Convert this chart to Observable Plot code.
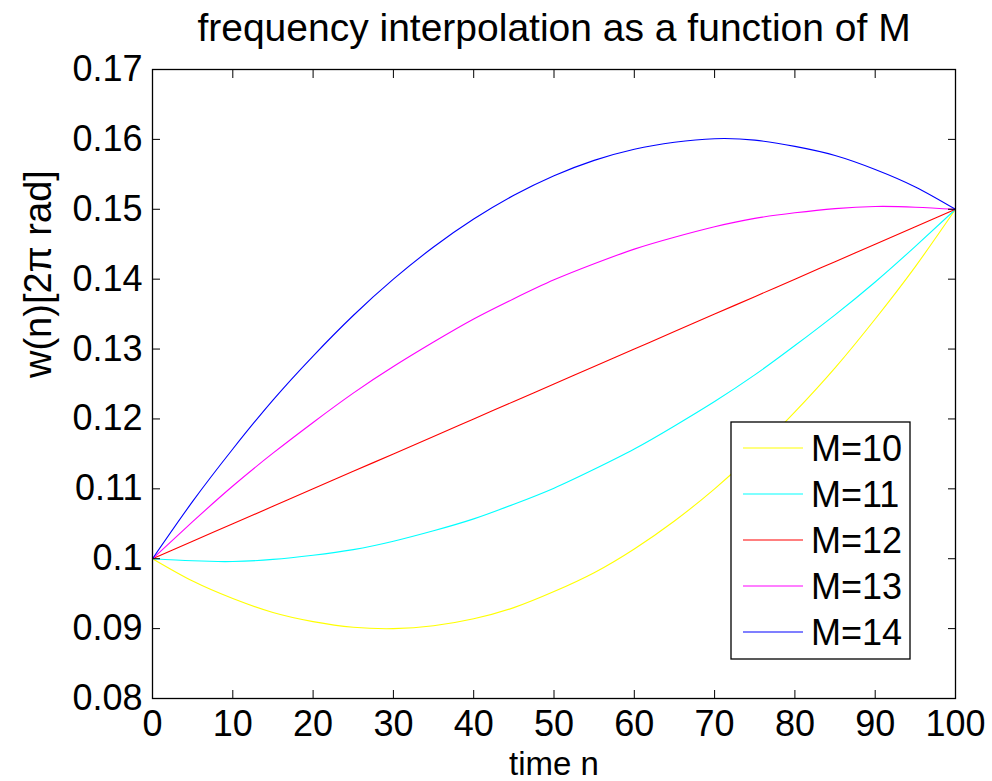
<!DOCTYPE html>
<html>
<head>
<meta charset="utf-8">
<script src="https://cdn.jsdelivr.net/npm/d3@7"></script>
<script src="https://cdn.jsdelivr.net/npm/@observablehq/plot@0.6"></script>
<style>
  html, body { margin: 0; padding: 0; background: #fff; }
  #chart { position: relative; width: 992px; height: 781px; }
  svg { font-family: "Liberation Sans", Arial, Helvetica, sans-serif; }
</style>
</head>
<body>
<div id="chart"></div>
<script>
// time n sampled every 5
const timeN = [0, 5, 10, 15, 20, 25, 30, 35, 40, 45, 50, 55, 60, 65, 70, 75, 80, 85, 90, 95, 100];

// w(n) in units of 2*pi rad
const wM10 = [0.1000, 0.0968, 0.0943, 0.0923, 0.0910, 0.0902, 0.0900, 0.0904, 0.0914, 0.0930, 0.0953,
              0.0980, 0.1014, 0.1054, 0.1100, 0.1152, 0.1210, 0.1273, 0.1343, 0.1418, 0.1500];
const wM11 = [0.1000, 0.0997, 0.0996, 0.0999, 0.1005, 0.1013, 0.1025, 0.1040, 0.1057, 0.1078, 0.1101,
              0.1128, 0.1157, 0.1190, 0.1225, 0.1263, 0.1305, 0.1349, 0.1396, 0.1447, 0.1500];
const wM12 = [0.1000, 0.1025, 0.1050, 0.1075, 0.1100, 0.1125, 0.1150, 0.1175, 0.1200, 0.1225, 0.1250,
              0.1275, 0.1300, 0.1325, 0.1350, 0.1375, 0.1400, 0.1425, 0.1450, 0.1475, 0.1500];
const wM13 = [0.1000, 0.1053, 0.1104, 0.1151, 0.1195, 0.1237, 0.1275, 0.1310, 0.1343, 0.1372, 0.1399,
              0.1422, 0.1443, 0.1460, 0.1475, 0.1487, 0.1495, 0.1501, 0.1504, 0.1503, 0.1500];
const wM14 = [0.1000, 0.1082, 0.1157, 0.1227, 0.1290, 0.1348, 0.1400, 0.1446, 0.1486, 0.1520, 0.1548,
              0.1570, 0.1586, 0.1596, 0.1601, 0.1599, 0.1590, 0.1577, 0.1557, 0.1532, 0.1500];

const seriesNames = ["M=10", "M=11", "M=12", "M=13", "M=14"];
const seriesColors = ["#ffff00", "#00ffff", "#ff0000", "#ff00ff", "#0000ff"];
const seriesValues = [wM10, wM11, wM12, wM13, wM14];

const xTicks = [0, 10, 20, 30, 40, 50, 60, 70, 80, 90, 100];
const yTicks = [0.08, 0.09, 0.10, 0.11, 0.12, 0.13, 0.14, 0.15, 0.16, 0.17];
const yTickLabels = ["0.08", "0.09", "0.1", "0.11", "0.12", "0.13", "0.14", "0.15", "0.16", "0.17"];

const titleText = "frequency interpolation as a function of M";
const xLabel = "time n";
const yLabel = "w(n)[2\u03C0 rad]";

// build tidy table
const rows = [];
seriesValues.forEach((vals, s) => {
  vals.forEach((v, i) => rows.push({n: timeN[i], w: v, M: seriesNames[s]}));
});

const FS = 36;
const W = 992, H = 781;
const mL = 152, mR = 37, mT = 69, mB = 83;

const plot = Plot.plot({
  width: W,
  height: H,
  marginLeft: mL,
  marginRight: mR,
  marginTop: mT,
  marginBottom: mB,
  style: {fontFamily: '"Liberation Sans", Arial, Helvetica, sans-serif', fontSize: FS + "px", color: "#000", background: "#fff"},
  x: {domain: [0, 100]},
  y: {domain: [0.08, 0.17]},
  color: {domain: seriesNames, range: seriesColors},
  marks: [
    Plot.line(rows, {x: "n", y: "w", z: "M", stroke: "M", strokeWidth: 1.1, curve: "natural"}),
    Plot.frame({stroke: "#000", strokeWidth: 1.3}),
    // labels
    Plot.axisX({ticks: xTicks, tickSize: 0, tickPadding: 12, fontSize: FS, label: null, tickFormat: d => String(d)}),
    Plot.axisY({ticks: yTicks, tickSize: 0, tickPadding: 10, fontSize: FS, label: null,
      tickFormat: d => yTickLabels[yTicks.findIndex(t => Math.abs(t - d) < 1e-9)]}),
    // inward ticks on all four sides
    Plot.axisX({anchor: "bottom", ticks: xTicks, tickSize: -8, tickFormat: () => "", label: null, strokeWidth: 1}),
    Plot.axisX({anchor: "top", ticks: xTicks, tickSize: -8, tickFormat: () => "", label: null, strokeWidth: 1}),
    Plot.axisY({anchor: "left", ticks: yTicks, tickSize: -8, tickFormat: () => "", label: null, strokeWidth: 1}),
    Plot.axisY({anchor: "right", ticks: yTicks, tickSize: -8, tickFormat: () => "", label: null, strokeWidth: 1}),
    // title and axis labels
    Plot.text([titleText], {frameAnchor: "top", lineAnchor: "bottom", dy: -29, fontSize: 39, fill: "#000"}),
    Plot.text([xLabel], {frameAnchor: "bottom", lineAnchor: "bottom", dy: 76, fontSize: 33, fill: "#000"}),
    Plot.text([yLabel], {frameAnchor: "left", lineAnchor: "bottom", rotate: -90, dx: -102, dy: -6, fontSize: 38, fill: "#000"})
  ]
});

document.getElementById("chart").appendChild(plot);

// legend box (MATLAB-style) drawn into the same SVG
const svg = d3.select(plot);
const lg = {x: 731, y: 422, w: 179, h: 237, rowH: 46, first: 448, lineX1: 743, lineX2: 803, textX: 811};
const g = svg.append("g").attr("class", "legend");
g.append("rect")
  .attr("x", lg.x).attr("y", lg.y).attr("width", lg.w).attr("height", lg.h)
  .attr("fill", "#fff").attr("stroke", "#000").attr("stroke-width", 1.3);
seriesNames.forEach((name, i) => {
  const cy = lg.first + i * lg.rowH;
  g.append("line").attr("x1", lg.lineX1).attr("x2", lg.lineX2).attr("y1", cy).attr("y2", cy)
    .attr("stroke", seriesColors[i]).attr("stroke-width", 1.1);
  g.append("text").attr("x", lg.textX).attr("y", cy).attr("dy", "0.35em")
    .attr("text-anchor", "start")
    .attr("font-size", FS).attr("fill", "#000").text(name);
});
</script>
</body>
</html>
